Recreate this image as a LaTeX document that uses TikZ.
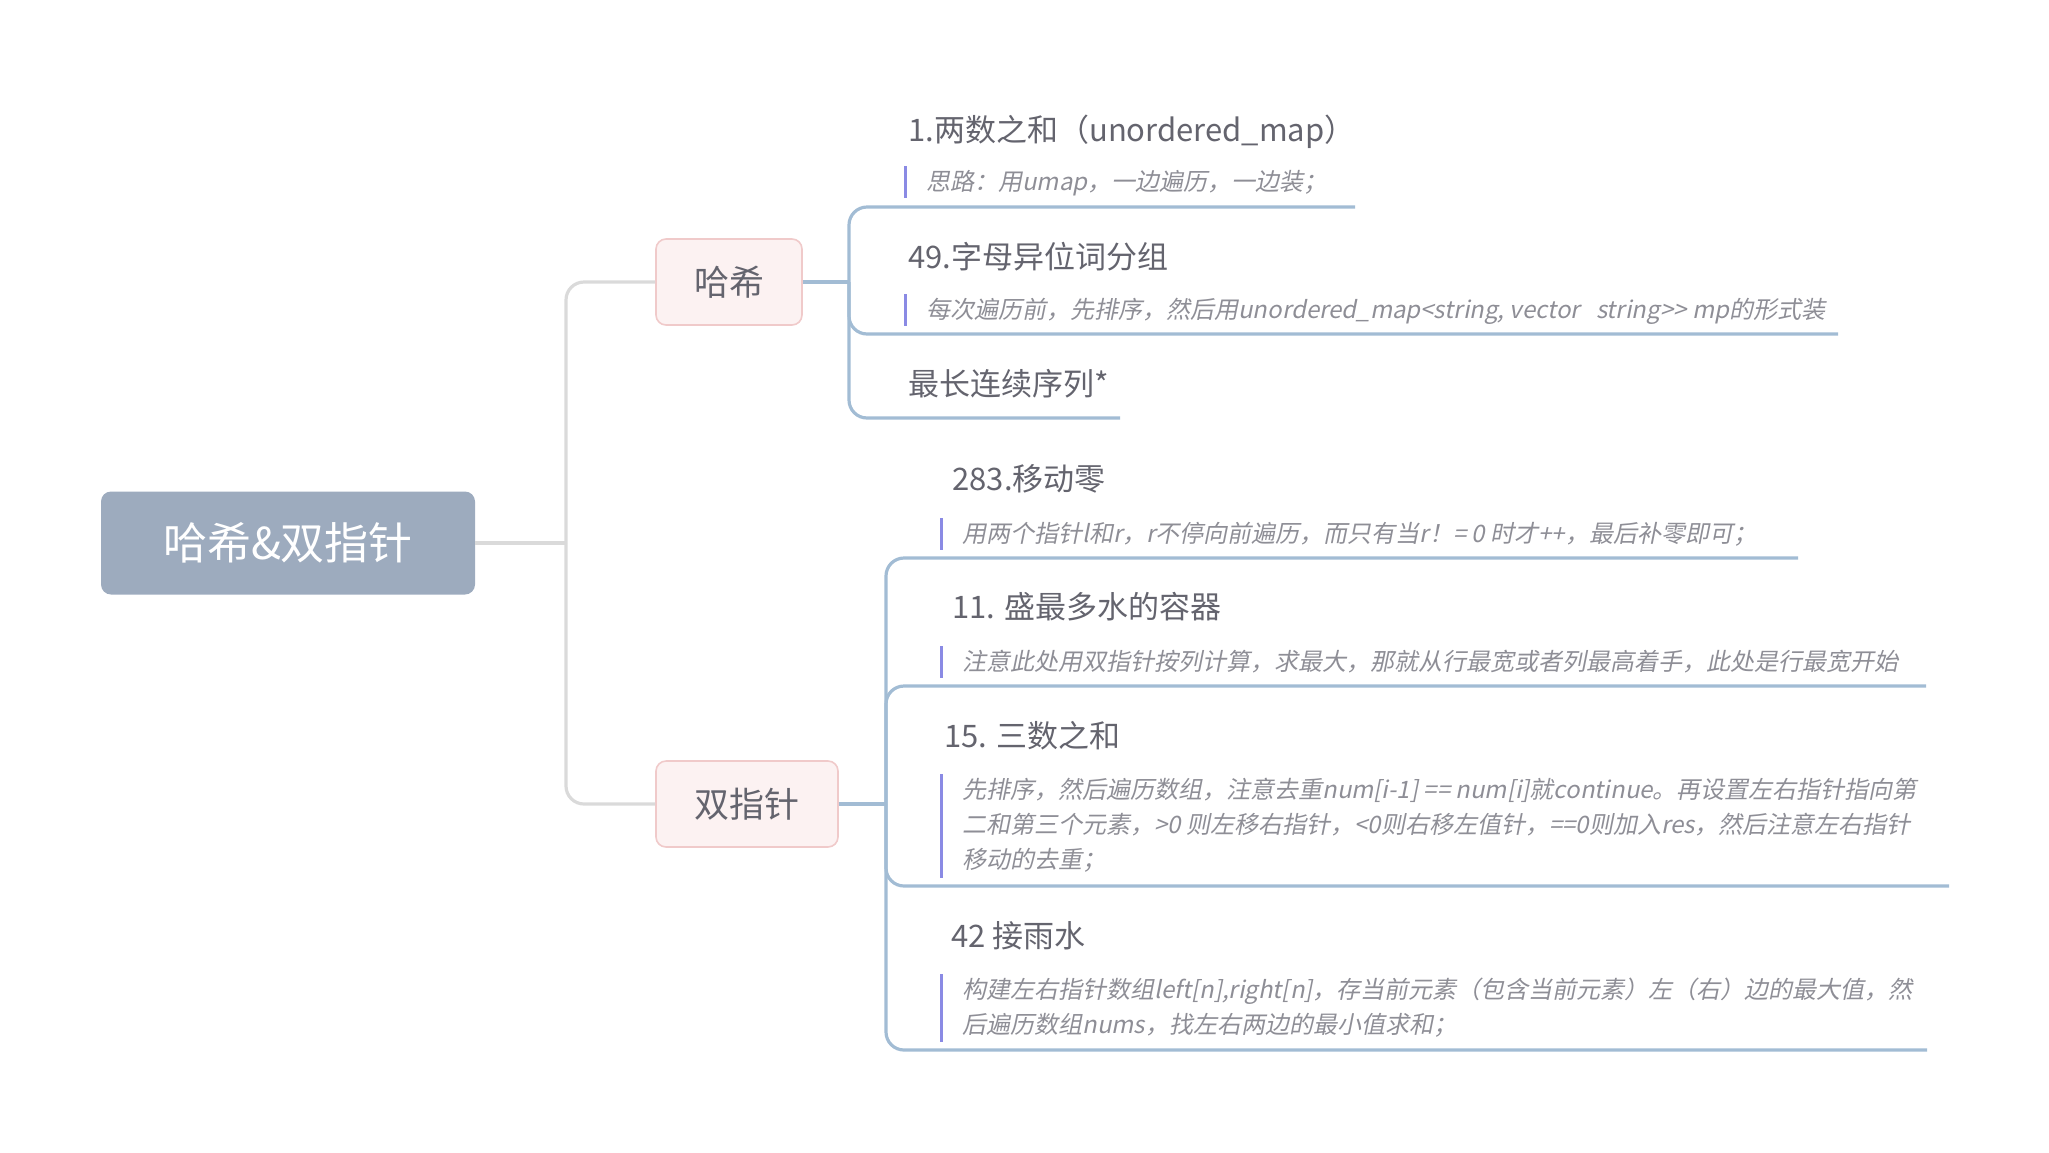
\documentclass[tikz,border=0pt]{standalone}
\usepackage{fontspec}
\setmainfont{Noto Sans CJK SC}
\newfontfamily\notefont[FakeSlant=0.2]{Noto Sans CJK SC}
\usetikzlibrary{positioning}
\definecolor{rootfill}{HTML}{9DABBE}
\definecolor{subfill}{HTML}{FCF2F2}
\definecolor{subdraw}{HTML}{F0CACA}
\definecolor{bluebranch}{HTML}{A2BCD4}
\definecolor{graybranch}{HTML}{DADADA}
\definecolor{titlegray}{HTML}{64646E}
\definecolor{notegray}{HTML}{8E8E96}
\definecolor{barcolor}{HTML}{8A8AE4}

\begin{document}
\begin{tikzpicture}[x=0.5pt,y=-0.5pt]
\tikzset{rootbox/.style={
    fill=rootfill, rounded corners=5pt,
    minimum width=187pt, minimum height=51.5pt,
    text=white, font=\fontsize{22}{26}\selectfont
  },
  subbox/.style={
    fill=subfill, draw=subdraw, line width=0.8pt, rounded corners=5pt,
    minimum width=#1, minimum height=43pt,
    text=titlegray, font=\fontsize{17.5}{21}\selectfont
  },
  subbox/.default=73pt,
  itemtitle/.style={anchor=base west, inner sep=0pt, text=titlegray,
    font=\fontsize{15.5}{18}\selectfont},
  itemnote/.style={anchor=base west, inner sep=0pt, text=notegray, align=left,
    font=\notefont\fontsize{12}{17.5}\selectfont},
  notebar/.style={draw=barcolor, line width=1.5pt},
  blueline/.style={draw=bluebranch, line width=1.6pt, rounded corners=9pt},
  grayline/.style={draw=graybranch, line width=1.6pt, rounded corners=9pt}
}
\useasboundingbox (0,0) rectangle (2049,1152);

% main topics
\node[rootbox] (root) at (288,543) {哈希\&双指针};
\node[subbox] (hash) at (729,282) {哈希};
\node[subbox=91pt] (ptr) at (747,804) {双指针};

\coordinate (rj) at (566,543);
\draw[grayline] (root.east) -- (rj);
\draw[grayline] (rj) |- (hash.west);
\draw[grayline] (rj) |- (ptr.west);

% hash items
\node[itemtitle] (t1) at (908,141) {1.两数之和（unordered\_map）};
\node[itemnote] (n1) at (926,190) {思路：用umap，一边遍历，一边装；};
\node[itemtitle] (t49) at (908,268) {49.字母异位词分组};
\node[itemnote] (n49) at (926,318) {每次遍历前，先排序，然后用unordered\_map<string, vector\ \ \ string>> mp的形式装};
\node[itemtitle] (t128) at (908,395) {最长连续序列*};
\draw[notebar] (905,166) -- (905,198);
\draw[notebar] (905,294) -- (905,326);

\coordinate (hj) at (849,282);
\coordinate (u1) at (1355,207);
\coordinate (u49) at (1838,334);
\coordinate (u128) at (1120,418);
\draw[blueline] (hash.east) -- (hj);
\draw[blueline] (hj) |- (u1);
\draw[blueline] (hj) |- (u49);
\draw[blueline] (hj) |- (u128);

% two pointer items (multi-line notes sit on their last baseline)
\node[itemtitle] (t283) at (952,490) {283.移动零};
\node[itemnote] (n283) at (962,542) {用两个指针l和r，r不停向前遍历，而只有当r！= 0 时才++，最后补零即可；};
\node[itemtitle] (t11) at (952,618) {11. 盛最多水的容器};
\node[itemnote] (n11) at (962,670) {注意此处用双指针按列计算，求最大，那就从行最宽或者列最高着手，此处是行最宽开始};
\node[itemtitle] (t15) at (944,747) {15. 三数之和};
\node[itemnote] (n15) at (962,868) {先排序，然后遍历数组，注意去重num[i-1] == num[i]就continue。再设置左右指针指向第\\
  二和第三个元素，>0 则左移右指针，<0则右移左值针，==0则加入res，然后注意左右指针\\
  移动的去重；};
\node[itemtitle] (t42) at (951,947) {42 接雨水};
\node[itemnote] (n42) at (962,1033) {构建左右指针数组left[n],right[n]，存当前元素（包含当前元素）左（右）边的最大值，然\\
  后遍历数组nums，找左右两边的最小值求和；};
\draw[notebar] (941,518) -- (941,550);
\draw[notebar] (941,646) -- (941,678);
\draw[notebar] (941,774) -- (941,878);
\draw[notebar] (941,974) -- (941,1042);

\coordinate (pj) at (886,804);
\coordinate (u283) at (1798,558);
\coordinate (u11) at (1926,686);
\coordinate (u15) at (1949,886);
\coordinate (u42) at (1927,1050);
\draw[blueline] (ptr.east) -- (pj);
\foreach \u in {u283,u11,u15,u42}
  \draw[blueline] (pj) |- (\u);
\end{tikzpicture}
\end{document}
